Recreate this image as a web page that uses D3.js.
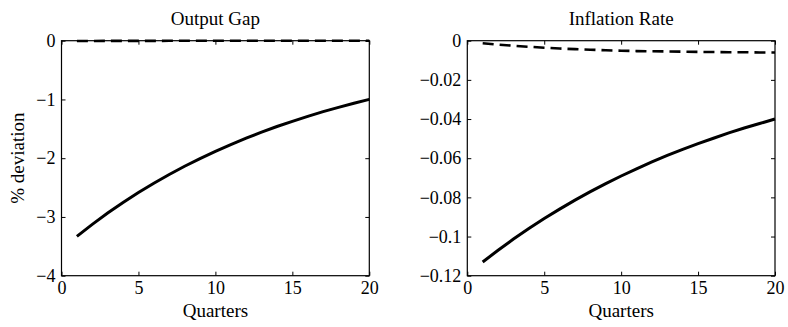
<!DOCTYPE html>
<html><head><meta charset="utf-8">
<script src="https://cdn.jsdelivr.net/npm/d3@7"></script>
<style>
html,body{margin:0;padding:0;background:#fff;}
svg text{font-family:"Liberation Serif","Times New Roman",serif;fill:#000;}
</style></head>
<body><svg id="c" width="788" height="327"></svg>
<script>
const quarters = [1,2,3,4,5,6,7,8,9,10,11,12,13,14,15,16,17,18,19,20];
const outputGapSolid = [-3.33,-3.126,-2.934,-2.754,-2.585,-2.426,-2.277,-2.137,-2.006,-1.883,-1.767,-1.659,-1.557,-1.461,-1.372,-1.287,-1.208,-1.134,-1.065,-0.999];
const outputGapDashed = [-0.004,-0.004,-0.003,-0.003,-0.003,-0.003,-0.002,-0.002,-0.002,-0.002,-0.002,-0.002,-0.002,-0.001,-0.001,-0.001,-0.001,-0.001,-0.001,-0.001];
const inflationSolid = [-0.1130,-0.1070,-0.1013,-0.0959,-0.0908,-0.0860,-0.0814,-0.0771,-0.0730,-0.0691,-0.0654,-0.0619,-0.0586,-0.0555,-0.0526,-0.0498,-0.0471,-0.0446,-0.0423,-0.0400];
const inflationDashed = [-0.0013,-0.0020,-0.0026,-0.0031,-0.0036,-0.0040,-0.0043,-0.0046,-0.0049,-0.0051,-0.0053,-0.0054,-0.0055,-0.0056,-0.0057,-0.0058,-0.0059,-0.0059,-0.0060,-0.0060];
const xTicks = [0,5,10,15,20];
const yTicksLeft = [0,-1,-2,-3,-4];
const yTicksRight = [0,-0.02,-0.04,-0.06,-0.08,-0.1,-0.12];
const titles = ["Output Gap","Inflation Rate"];

const svg = d3.select("#c");
const fmt = d => (d < 0 ? "\u2212" : "") + String(Math.abs(d));

function panel(x0, x1, title, yDomain, yTicks, solid, dashed, ylabel){
  const top = 40.7, bottom = 275.7;
  const x = d3.scaleLinear().domain([0,20]).range([x0,x1]);
  const y = d3.scaleLinear().domain(yDomain).range([bottom, top]);
  const g = svg.append("g");
  const tl = 4;
  const bAx = d3.axisBottom(x).tickValues(xTicks).tickSize(-tl).tickFormat(fmt).tickPadding(6);
  const tAx = d3.axisTop(x).tickValues(xTicks).tickSize(-tl).tickFormat("");
  const lAx = d3.axisLeft(y).tickValues(yTicks).tickSize(-tl).tickFormat(fmt).tickPadding(6);
  const rAx = d3.axisRight(y).tickValues(yTicks).tickSize(-tl).tickFormat("");
  [[bAx,`translate(0,${bottom})`],[tAx,`translate(0,${top})`],[lAx,`translate(${x0},0)`],[rAx,`translate(${x1},0)`]].forEach(([ax,tr])=>{
    const a = g.append("g").attr("transform",tr).call(ax);
    a.attr("font-size",18).attr("font-family","Liberation Serif");
    a.select(".domain").remove();
    a.selectAll("line").attr("stroke","#000").attr("stroke-width",1);
    a.selectAll("text").style("font-size","18px");
  });
  g.append("rect").attr("x",x0).attr("y",top).attr("width",x1-x0).attr("height",bottom-top)
    .attr("fill","none").attr("stroke","#000").attr("stroke-width",1.2);
  const line = d3.line().x((d,i)=>x(quarters[i])).y(d=>y(d));
  g.append("path").datum(dashed).attr("d",line).attr("fill","none").attr("stroke","#000")
    .attr("stroke-width",2.6).attr("stroke-dasharray","11,6");
  g.append("path").datum(solid).attr("d",line).attr("fill","none").attr("stroke","#000")
    .attr("stroke-width",3);
  g.append("text").attr("x",(x0+x1)/2).attr("y",25).attr("text-anchor","middle").style("font-size","19px").text(title);
  g.append("text").attr("x",(x0+x1)/2).attr("y",317).attr("text-anchor","middle").style("font-size","19px").text("Quarters");
  if (ylabel){
    g.append("text").attr("transform",`translate(24,${(top+bottom)/2}) rotate(-90)`)
      .attr("text-anchor","middle").style("font-size","19px").text(ylabel);
  }
}
panel(61.5, 369.3, titles[0], [-4,0], yTicksLeft, outputGapSolid, outputGapDashed, "% deviation");
panel(467.3, 775, titles[1], [-0.12,0], yTicksRight, inflationSolid, inflationDashed, null);
</script></body></html>
